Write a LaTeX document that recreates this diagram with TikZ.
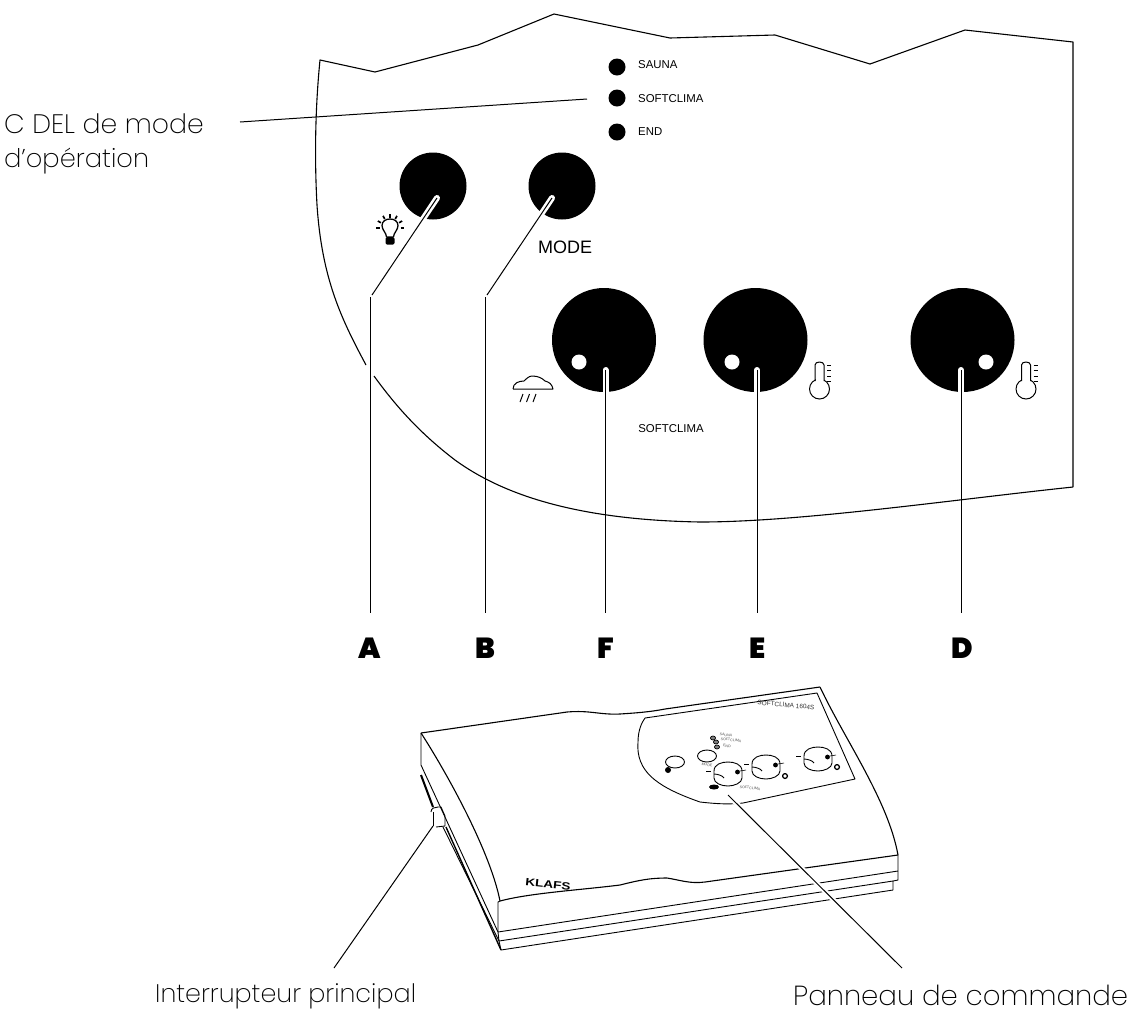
\documentclass[tikz,border=0pt]{standalone}
\usepackage{fontspec}
\usetikzlibrary{calc,shapes.geometric}
\setmainfont{Liberation Sans}
\newfontfamily\lab{Poppins}[UprightFont=* ExtraLight]
\newfontfamily\heavyf{Poppins}[UprightFont=* Black]
\begin{document}
\begin{tikzpicture}[x=1pt,y=-1pt,line join=round,
 outline/.style={draw=black,line width=1.1pt},
 thin line/.style={draw=black,line width=0.9pt},
 leader/.style={draw=black,line width=1pt},
 halo/.style={draw=white,line width=6pt,line cap=round},
 knob/.style={circle,fill=black,draw=none,inner sep=0pt,minimum size=#1},
 dotw/.style={circle,fill=white,draw=none,inner sep=0pt,minimum size=15pt},
 ledlab/.style={anchor=west,font=\fontsize{11.4}{12}\selectfont,inner sep=0pt},
 letter/.style={font=\heavyf\fontsize{29}{29}\selectfont,inner sep=0pt},
 caption/.style={anchor=west,font=\lab\fontsize{#1}{30}\selectfont,inner sep=0pt},
 tiny/.style={inner sep=0pt,text=black!70,font=\fontsize{3.6}{4}\selectfont,rotate=-6},
]
\useasboundingbox (0,0) rectangle (1140,1013);
% panel outline
\draw[outline] (366,365) .. controls (342,320) and (322,280) .. (317,205) .. controls (314,150) and (316,100) .. (320,60)
 -- (375,72) -- (478,45) -- (554,14) -- (670,38) -- (775,35) -- (870,64) -- (965,30) -- (1073,42) -- (1073,487);
\draw[outline] (1073,487) .. controls (950,500) and (800,522) .. (700,522) .. controls (590,520) and (510,500) .. (455,460) .. controls (425,437) and (400,412) .. (374,376);
% LEDs
\node[knob=17pt] (led1) at (617,67) {};
\node[knob=17pt] (led2) at (617,98) {};
\node[knob=17pt] (led3) at (617,132) {};
\node[ledlab] (t1) at (638,65) {SAUNA};
\node[ledlab] (t2) at (638,99) {SOFTCLIMA};
\node[ledlab] (t3) at (638,132) {END};
\coordinate (cstart) at (240,122);
\coordinate (cend) at (587,99);
\draw[leader] (cstart) -- (cend);
\node[caption=26.7] (c1) at (4,124) {C DEL de mode};
\node[caption=25.7] (c2) at (4,161) {d’opération};
% knobs
\node[knob=67pt] (ka) at (433,186) {};
\node[knob=67pt] (kb) at (562,186) {};
\node[knob=104pt] (kf) at (604,340) {};
\node[knob=104pt] (ke) at (755.5,340) {};
\node[knob=104pt] (kd) at (962.5,340) {};
\node[dotw] (df) at (579,362) {};
\node[dotw] (de) at (732,362) {};
\node[dotw] (dd0) at (986,362) {};
\node[anchor=center,inner sep=0pt,font=\fontsize{18}{18}\selectfont] (mode) at (565,247) {MODE};
\node[inner sep=0pt,font=\fontsize{11.4}{12}\selectfont] (soft) at (671,429) {SOFTCLIMA};
% letters
\node[letter] (A) at (370,648) {A};
\node[letter] (B) at (485,648) {B};
\node[letter] (F) at (606,648) {F};
\node[letter] (E) at (758,648) {E};
\node[letter] (D) at (962,648) {D};
% leaders with halos
\coordinate (aa) at (437,198); \coordinate (ab) at (372,295); \coordinate (ac) at (370,297); \coordinate (ad) at (370,613);
\coordinate (ba) at (552,198); \coordinate (bb) at (487,295); \coordinate (bc) at (485,297); \coordinate (bd) at (485,613);
\coordinate (fa) at (605.5,370); \coordinate (fd) at (605.5,613);
\coordinate (ea) at (757,370); \coordinate (ed) at (757,613);
\coordinate (da) at (961,370); \coordinate (dd) at (961,613);
\draw[halo] (aa) -- ($(aa)!0.36!(ab)$);
\draw[halo] (ba) -- ($(ba)!0.36!(bb)$);
\draw[halo] (fa) -- (605.5,394);
\draw[halo] (ea) -- (757,394);
\draw[halo] (da) -- (961,394);
\draw[leader] (aa) -- (ab);
\draw[leader] (ac) -- (ad);
\draw[leader] (ba) -- (bb);
\draw[leader] (bc) -- (bd);
\draw[leader] (fa) -- (fd);
\draw[leader] (ea) -- (ed);
\draw[leader] (da) -- (dd);
% bulb
\begin{scope}[shift={(390,228)}]
 \draw[line width=1.3pt] (-3.5,9) .. controls (-3.5,5) and (-8,2) .. (-8,-2.5) .. controls (-8,-7) and (-4,-9) .. (0,-9) .. controls (4,-9) and (8,-7) .. (8,-2.5) .. controls (8,2) and (3.5,5) .. (3.5,9) -- cycle;
 \fill[rounded corners=1.5pt] (-4.5,9) rectangle (4.5,16.5);
 \foreach \a in {-90,-60,-120,-30,-150,0,180}
  \draw[line width=1.7pt] (\a:10.5) -- (\a:14);
\end{scope}
% cloud
\draw[line width=1pt] (513,389) -- (553,389) .. controls (552,384) and (549,382) .. (545,381) .. controls (542,378) and (538,376) .. (532,376) .. controls (529,376) and (526,379) .. (524,381) .. controls (519,381) and (513,383) .. (513,389);
\foreach \x in {520,526.5,533} \draw[line width=1pt] (\x,402) -- (\x+3,394);
% thermometers
\foreach \dx in {0,206.5} {
 \begin{scope}[xshift=\dx pt]
 \draw[line width=1pt] (819.5,389) circle (10);
 \fill[white] (815.5,376) rectangle (823.5,383);
 \draw[line width=1pt] (815,381) -- (815,365) .. controls (815,361) and (824,361) .. (824,365) -- (824,381);
 \foreach \y in {365,370.5,376,381} \draw[line width=.9pt] (827,\y) -- (831,\y);
 \end{scope}
}
% device
\coordinate (p1) at (421,733); \coordinate (p2) at (820,687); \coordinate (p3) at (898,855); \coordinate (p4) at (500,901);
\draw[outline] (p1) -- (567,712) .. controls (590,710) and (600,715) .. (620,714) .. controls (635,713) and (650,712) .. (665,709) -- (p2);
\draw[outline] (p2) .. controls (845,740) and (888,800) .. (p3);
\draw[outline] (p4) .. controls (530,893) and (580,890) .. (620,885) .. controls (640,880) and (650,878) .. (667,878) .. controls (680,880) and (690,884) .. (705,882) -- (p3);
\draw[outline] (p1) .. controls (445,770) and (490,850) .. (p4);
\draw[thin line] (p4) -- (498,902) -- (498,932) -- (499,941) -- (501,950);
\draw[thin line] (p3) -- (898,880) -- (893,881) -- (893,890);
\draw[thin line] (498,932) -- (898,871);
\draw[thin line] (499,941) -- (893,881);
\draw[thin line] (501,950) -- (893,890);
\draw[thin line] (p1) -- (421,765) -- (498,932);
\draw[line width=2pt] (421,775) -- (433,807);
\draw[thin line] (443,827) -- (499,941);
\draw[line width=1.4pt] (446,827) -- (501,950);
\draw[thin line] (431,812) .. controls (431,808) and (435,807) .. (438,807) -- (441,807) -- (445,816) -- (445,826) -- (436,827);
\draw[thin line] (433,826) -- (433,812);
% device panel
\draw[thin line] (645,718) -- (817,693) -- (855,779) -- (743,803) .. controls (725,805) and (710,803) .. (700,802) .. controls (680,795) and (665,788) .. (655,780) .. controls (640,768) and (637,755) .. (638,742) .. controls (638,730) and (642,722) .. (645,718);
\node[thin line,ellipse,minimum width=19pt,minimum height=12pt,inner sep=0pt] (m1) at (675,762) {};
\node[thin line,ellipse,minimum width=19pt,minimum height=12pt,inner sep=0pt] (m2) at (707,756) {};
\foreach \n/\x/\y in {m3/728/772,m4/766/765,m5/818/757} {
 \draw[thin line] (\x-14,\y-1) .. controls (\x-14,\y-8) and (\x-6,\y-10) .. (\x,\y-10) .. controls (\x+6,\y-10) and (\x+14,\y-8) .. (\x+14,\y-1) -- (\x+14,\y+6) .. controls (\x+14,\y+11) and (\x+6,\y+14) .. (\x,\y+14) .. controls (\x-7,\y+14) and (\x-14,\y+11) .. (\x-14,\y+6) -- cycle;
 \draw[thin line] (\x-14,\y+2) .. controls (\x-10,\y+2) and (\x-5,\y+4) .. (\x-4,\y+6);
 \draw[line width=.6pt] (\x-22,\y-1) -- (\x-17,\y-1);
 \fill (\x+9.5,\y+0) circle (2.4);
 \draw[line width=.6pt] (\x+12,\y-1) -- (\x+18,\y-2);
}
\fill (668,770) circle (3);
\fill (714,787) ellipse (5 and 2.5);
\draw[line width=1.3pt] (785,776) circle (2.4);
\draw[line width=1.3pt] (837,767) circle (2.4);
\foreach \x/\y in {713/738,716/742,717/747} \draw[line width=.7pt,fill=black!50] (\x,\y) ellipse (2.6 and 2);
\node[tiny] (dl1) at (726,735) {SAUNA};
\node[tiny] (dl2) at (731,740) {SOFTCLIMA};
\node[tiny] (dl3) at (727,746) {END};
\node[tiny] (dl4) at (707,765) {MODE};
\node[tiny] (dl5) at (750,788) {SOFTCLIMA};
\node[inner sep=0pt,rotate=-5,text=black!80,font=\fontsize{6.4}{7}\selectfont] (dt) at (786,705) {SOFTCLIMA 1604S};
\node[inner sep=0pt,rotate=-6,xscale=1.3,font=\bfseries\fontsize{10.5}{11}\selectfont] (klafs) at (548,884) {KLAFS};
% bottom leaders
\node[caption=25.4] (ip) at (155,996) {Interrupteur principal};
\node[caption=27.6] (pc) at (793,995) {Panneau de commande};
\coordinate (sw) at (433,826); \coordinate (swl) at (334,968);
\coordinate (pn) at (728,795); \coordinate (pnl) at (902,968);
\draw[draw=white,line width=5pt] (pn) -- ($(pn)!0.66!(pnl)$);
\draw[leader] (sw) -- (swl);
\draw[leader] (pn) -- (pnl);
\end{tikzpicture}
\end{document}
